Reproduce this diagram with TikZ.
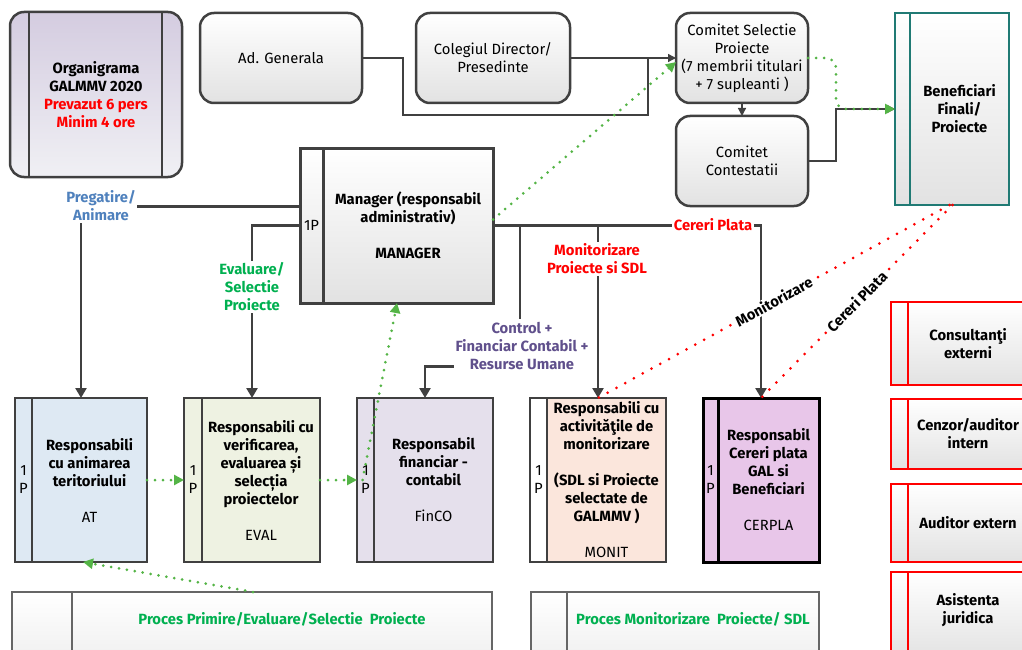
\documentclass[tikz,border=0pt]{standalone}
\usepackage{fontspec}
\setmainfont{Fira Sans}
\usetikzlibrary{arrows.meta}

\definecolor{linegray}{RGB}{64,64,64}
\definecolor{boxgray}{RGB}{226,226,226}
\definecolor{orgtop}{RGB}{212,204,224}
\definecolor{orgbot}{RGB}{240,240,244}
\definecolor{benefteal}{RGB}{32,122,116}
\definecolor{dotgreen}{RGB}{84,180,70}
\definecolor{txtgreen}{RGB}{0,176,80}
\definecolor{txtblue}{RGB}{79,129,189}
\definecolor{txtpurple}{RGB}{96,80,140}
\definecolor{atfill}{RGB}{222,233,243}
\definecolor{evalfill}{RGB}{238,242,226}
\definecolor{finfill}{RGB}{229,224,236}
\definecolor{monfill}{RGB}{251,230,220}
\definecolor{cerfill}{RGB}{232,198,233}
\newcommand{\orgfont}{\fontsize{14.8}{18}\selectfont}

\begin{document}
\begin{tikzpicture}[x=1pt,y=-1pt,
	every node/.style={font=\orgfont, align=center, inner sep=0pt, outer sep=0pt},
	topbox/.style={draw=linegray, line width=2.5pt, rounded corners=14pt, top color=white, bottom color=boxgray, minimum width=#1, minimum height=90pt},
	unit/.style={draw=linegray, line width=2.5pt, minimum width=#1, minimum height=164pt, font=\orgfont\bfseries},
	strip/.style={draw=linegray, line width=2.5pt, minimum width=#1, minimum height=164pt, anchor=north east},
	extbox/.style={draw=red, line width=2pt, top color=white, bottom color=boxgray, minimum width=120pt, minimum height=#1, font=\orgfont\bfseries},
	extstrip/.style={draw=red, line width=2pt, top color=white, bottom color=boxgray, minimum width=17pt, minimum height=#1, anchor=north east},
	procbox/.style={draw=linegray!80, line width=1.2pt, top color=white, bottom color=boxgray!60, minimum height=78pt, text depth=25pt, font=\orgfont\bfseries, text=txtgreen},
	link/.style={draw=linegray, line width=2.5pt, -{Triangle[length=10pt,width=11pt]}},
	thinlink/.style={draw=linegray, line width=1.3pt},
	smalltip/.style={-{Triangle[length=8pt,width=8pt]}},
	gdot/.style={dotgreen, line width=3pt, dash pattern=on 0pt off 8pt, line cap=round, -{Triangle[length=10pt,width=10pt]}},
	rdot/.style={red, line width=3pt, dash pattern=on 0pt off 10pt, line cap=round},
	lbl/.style={fill=white, inner sep=1.5pt, font=\orgfont\bfseries},
	slopelbl/.style={sloped, fill=white, text=black, inner sep=1pt, font=\orgfont\bfseries, pos=.5}]
	\useasboundingbox (0,0) rectangle (1022,650);

	% top row
	\node[topbox=172pt, minimum height=165pt, top color=orgtop, bottom color=orgbot, font=\orgfont\bfseries] (org) at (96,94.5) {Organigrama\\GALMMV 2020\\\textcolor{red}{Prevazut 6 pers}\\\textcolor{red}{Minim 4 ore}};
	\draw[linegray, line width=1.5pt] ([xshift=19pt]org.north west) -- ([xshift=19pt]org.south west);
	\draw[linegray, line width=1.5pt] ([xshift=-20pt]org.north east) -- ([xshift=-20pt]org.south east);
	\node[topbox=162pt] (adg) at (281,58) {Ad. Generala};
	\node[topbox=154pt] (col) at (493,58) {Colegiul Director/\\Presedinte};
	\node[topbox=132pt] (csel) at (742,58) {Comitet Selectie\\Proiecte\\(7 membrii titulari\\+ 7 supleanti )};
	\node[topbox=132pt] (ccont) at (742,161) {Comitet\\Contestatii};
	\node[draw=benefteal, line width=2.5pt, top color=white, bottom color=boxgray, minimum width=99pt, minimum height=192pt, font=\orgfont\bfseries] (benef) at (959.5,109) {Beneficiari\\Finali/\\Proiecte};
	\node[draw=benefteal, line width=2.5pt, top color=white, bottom color=boxgray, minimum width=15pt, minimum height=192pt, anchor=north east] (benefs) at (benef.north west) {};

	% manager
	\node[unit=170pt, minimum height=155pt, line width=3pt, top color=white, bottom color=boxgray] (mgr) at (408,225.5) {Manager (responsabil\\administrativ)\\[18pt]MANAGER};
	\node[strip=23pt, minimum height=155pt, line width=3pt, top color=white, bottom color=boxgray] (mgrs) at (mgr.north west) {1P};

	% compartimente
	\node[unit=115pt, fill=atfill] (at) at (89.5,480) {Responsabili\\cu animarea\\teritoriului\\[18pt]{\mdseries AT}};
	\node[strip=17pt, fill=atfill] (ats) at (at.north west) {1\\P};
	\node[unit=118pt, fill=evalfill] (eval) at (261,480) {Responsabili cu\\verificarea,\\evaluarea și\\selecția\\proiectelor\\[18pt]{\mdseries EVAL}};
	\node[strip=18pt, fill=evalfill] (evals) at (eval.north west) {1\\P};
	\node[unit=119pt, fill=finfill] (fin) at (433.5,480) {Responsabil\\financiar -\\contabil\\[18pt]{\mdseries FinCO}};
	\node[strip=17pt, fill=finfill] (fins) at (fin.north west) {1\\P};
	\node[unit=119pt, fill=monfill] (mon) at (606.5,480) {Responsabili cu\\activităţile de\\monitorizare\\[18pt](SDL si Proiecte\\selectate de\\GALMMV )\\[18pt]{\mdseries MONIT}};
	\node[strip=17pt, fill=white] (mons) at (mon.north west) {1\\P};
	\node[unit=101pt, draw=black, line width=3pt, fill=cerfill] (cer) at (768.5,480) {Responsabil\\Cereri plata\\GAL si\\Beneficiari\\[18pt]{\mdseries CERPLA}};
	\node[strip=15pt, draw=black, line width=3pt, fill=cerfill] (cers) at (cer.north west) {1\\P};

	% externi
	\node[extbox=83pt] (cons) at (968,343.5) {Consultanţi\\externi};
	\node[extstrip=83pt] (conss) at (cons.north west) {};
	\node[extbox=70pt] (cenz) at (968,434) {Cenzor/auditor\\intern};
	\node[extstrip=70pt] (cenzs) at (cenz.north west) {};
	\node[extbox=78pt] (aud) at (968,523) {Auditor extern};
	\node[extstrip=78pt] (auds) at (aud.north west) {};
	\node[extbox=88pt, text depth=15pt] (asis) at (968,616) {Asistenta\\juridica};
	\node[extstrip=88pt] (asiss) at (asis.north west) {};

	% procese
	\node[procbox, minimum width=420pt] (proc1) at (282,631) {Proces Primire/Evaluare/Selectie~ Proiecte};
	\node[procbox, minimum width=60pt, anchor=north east] (proc1s) at (proc1.north west) {};
	\node[procbox, minimum width=252pt] (proc2) at (693,631) {Proces Monitorizare~ Proiecte/ SDL};
	\node[procbox, minimum width=36pt, anchor=north east] (proc2s) at (proc2.north west) {};

	% legaturi sus
	\draw[thinlink] (adg.east) -- ++(41,0) -- ++(0,57) -| ([xshift=-28pt]csel.west);
	\draw[thinlink, smalltip] (col.east) -- (csel.west);
	\draw[thinlink, smalltip] (csel.south) -- (ccont.north);
	\draw[thinlink, smalltip] (ccont.east) -- ++(28,0) |- (benefs.west);
	\draw[gdot, rounded corners=10pt] (csel.east) -- ++(28,0) |- (benefs.west);
	\draw[gdot] ([yshift=6pt]mgr.east) -- ([yshift=-4pt]csel.west);

	% legaturi manager
	\draw[link] ([yshift=19pt]mgrs.west) -| ([xshift=-8.5pt]at.north);
	\draw[link] (mgrs.west) -| ([xshift=-9pt]eval.north);
	\draw[link] (mgr.east) -| ([xshift=-7.5pt]cer.north);
	\draw[link] (mgr.east) ++(27,0) -- ++(0,141) -| ([xshift=-8.5pt]fin.north);
	\draw[link] ([xshift=-8.5pt]mon.north |- mgr.east) -- ([xshift=-8.5pt]mon.north);

	% fluxuri
	\draw[gdot] (at.east) -- (evals.west);
	\draw[gdot] (eval.east) -- (fins.west);
	\draw[gdot] ([xshift=-3pt]fins.center) -- ([xshift=-11pt]mgr.south);
	\draw[gdot] ([xshift=-29pt]proc1.north) -- ([xshift=-6.5pt]at.south);
	\draw[rdot] ([xshift=-10pt]benef.south) -- node[slopelbl] (monlbl) {Monitorizare} ([xshift=-8.5pt]mon.north);
	\draw[rdot] ([xshift=-7pt]benef.south) -- node[slopelbl] (cerlbl) {Cereri Plata} ([xshift=-7.5pt]cer.north);

	% etichete
	\node[lbl, text=txtblue] (pregatire) at (101,206) {Pregatire/\\Animare};
	\node[lbl, text=txtgreen] (evaluare) at (252,287) {Evaluare/\\Selectie\\Proiecte};
	\node[lbl, text=txtpurple, inner ysep=3pt] (control) at (522,346) {Control +\\Financiar Contabil +\\Resurse Umane};
	\node[lbl, text=red] (cereri) at (713,225) {Cereri Plata};
	\node[lbl, text=red] (monitorizare) at (597,259) {Monitorizare\\Proiecte si SDL};
\end{tikzpicture}
\end{document}
